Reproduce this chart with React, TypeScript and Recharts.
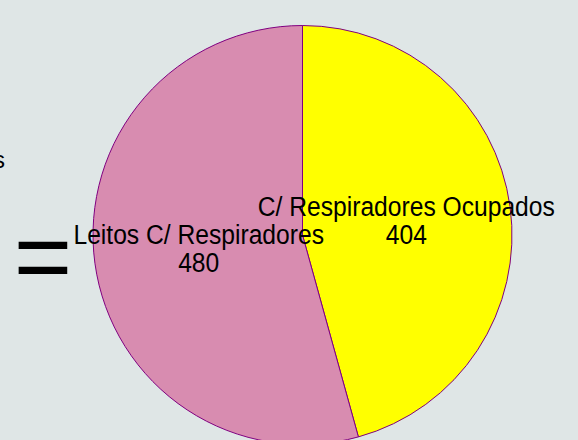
import { PieChart, Pie, Cell } from 'recharts'

const categories = ['C/ Respiradores Ocupados', 'Leitos C/ Respiradores']
const values = [404, 480]
const sliceColors = ['#ffff00', '#d88cb0']

const RAD = Math.PI / 180
const FONT = '"Liberation Sans", Arial, sans-serif'

function SliceLabel(props: any) {
  const { cx, cy, midAngle, outerRadius, name, value } = props
  const r = outerRadius * 0.5
  const x = cx + r * Math.cos(-midAngle * RAD)
  const y = cy + r * Math.sin(-midAngle * RAD)
  // narrow look: squeeze text horizontally
  return (
    <g transform={`translate(${x},${y}) scale(0.88,1)`}>
      <text textAnchor='middle' fill='#000' fontFamily={FONT} fontSize={28}>
        <tspan x={0} y={-5}>{name}</tspan>
        <tspan x={0} y={23}>{value}</tspan>
      </text>
    </g>
  )
}

export default function App() {
  const chartData = categories.map((name, i) => ({ name, value: values[i] }))

  return (
    <div style={{ position: 'fixed', left: 0, top: 0, width: 578, height: 440, background: '#dfe6e6', overflow: 'hidden' }}>
      <PieChart width={578} height={440} margin={{ top: 0, right: 0, bottom: 0, left: 0 }}>
        <text x={5} y={168} textAnchor='end' fontFamily={FONT} fontSize={24} fill='#000'>
          Leitos
        </text>
        <text x={43} y={291} textAnchor='middle' fontFamily={FONT} fontSize={100} fill='#000'>
          =
        </text>
        <Pie
          data={chartData}
          dataKey='value'
          nameKey='name'
          cx={302.5}
          cy={235}
          outerRadius={209.5}
          startAngle={90}
          endAngle={-270}
          stroke='#800080'
          strokeWidth={1}
          label={SliceLabel}
          labelLine={false}
          isAnimationActive={false}
        >
          {chartData.map((d, i) => (
            <Cell key={d.name} fill={sliceColors[i]} />
          ))}
        </Pie>
      </PieChart>
    </div>
  )
}
